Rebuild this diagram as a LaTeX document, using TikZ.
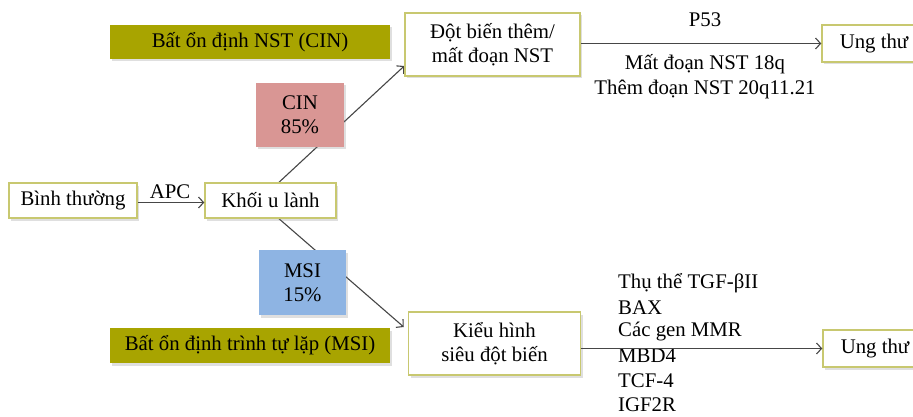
\documentclass[tikz,border=0pt]{standalone}
\usepackage{fontspec}
\setmainfont{Liberation Serif}
\usetikzlibrary{arrows.meta,shadows,backgrounds}
\definecolor{olivefill}{RGB}{168,164,0}
\definecolor{boxline}{RGB}{200,200,112}
\definecolor{pinkfill}{RGB}{217,150,148}
\definecolor{bluefill}{RGB}{142,180,227}
\definecolor{arrowgray}{RGB}{70,70,70}
\begin{document}
\begin{tikzpicture}[x=1pt,y=-1pt,
  font=\fontsize{20.8}{24.4}\selectfont,
  sh/.style={drop shadow={opacity=0.25,shadow xshift=2pt,shadow yshift=-2.5pt}},
  wbox/.style={draw=boxline,line width=1.5pt,fill=white,sh,align=center,inner sep=0pt},
  obox/.style={fill=olivefill,sh,inner sep=0pt},
  cbox/.style={sh,align=center,inner sep=0pt},
  conn/.style={draw=arrowgray,line width=1.1pt},
  arr/.style={conn,-{Straight Barb[length=5pt,width=11pt]}},
  lbl/.style={inner sep=0pt}]
\useasboundingbox (0,0) rectangle (913,417);
% boxes
\node[wbox,minimum width=128,minimum height=35] (bt) at (73,200.5) {Bình thường};
\node[wbox,minimum width=131,minimum height=35] (ku) at (270.5,200.5) {Khối u lành};
\node[obox,minimum width=280,minimum height=34] (cinlab) at (250,42) {Bất ổn định NST (CIN)};
\node[cbox,fill=pinkfill,minimum width=88,minimum height=64] (cin) at (300,115) {CIN\\85\%};
\node[wbox,minimum width=175,minimum height=63] (db) at (492.5,44.5) {Đột biến thêm/\\mất đoạn NST};
\node[wbox,minimum width=104,minimum height=37] (ut1) at (874,43.5) {Ung thư};
\node[cbox,fill=bluefill,minimum width=87,minimum height=65] (msi) at (302.5,282.5) {MSI\\15\%};
\node[obox,minimum width=280,minimum height=35] (msilab) at (250,345.5) {Bất ổn định trình tự lặp (MSI)};
\node[wbox,minimum width=172,minimum height=63] (kh) at (494.5,343.5) {Kiểu hình\\siêu đột biến};
\node[wbox,minimum width=104,minimum height=37] (ut2) at (875,348.5) {Ung thư};
% labels
\node[lbl] (apc) at (170,192) {APC};
\node[lbl] (p53) at (705,20) {P53};
\node[lbl] (del) at (705,64) {Mất đoạn NST 18q};
\node[lbl] (add) at (705,89) {Thêm đoạn NST 20q11.21};
\node[lbl,anchor=west] (g1) at (618,283) {Thụ thể TGF-βII};
\node[lbl,anchor=west] (g2) at (618,307.5) {BAX};
\node[lbl,anchor=west] (g3) at (618,332) {Các gen MMR};
\node[lbl,anchor=west] (g4) at (618,356) {MBD4};
\node[lbl,anchor=west] (g5) at (618,380.5) {TCF-4};
\node[lbl,anchor=west] (g6) at (618,405) {IGF2R};
% connectors
\begin{scope}[on background layer]
\draw[arr] ([xshift=8.5pt]ku.north) -- ([yshift=-21.5pt]db.west);
\draw[arr] ([xshift=8.5pt]ku.south) -- ([yshift=16.5pt,xshift=-4pt]kh.west);
\end{scope}
\draw[arr] ([yshift=-2pt]bt.east) -- ([yshift=-2pt]ku.west);
\draw[arr] (db.east |- ut1.west) -- (ut1.west);
\draw[arr] (kh.east |- ut2.west) -- (ut2.west);
\end{tikzpicture}
\end{document}
